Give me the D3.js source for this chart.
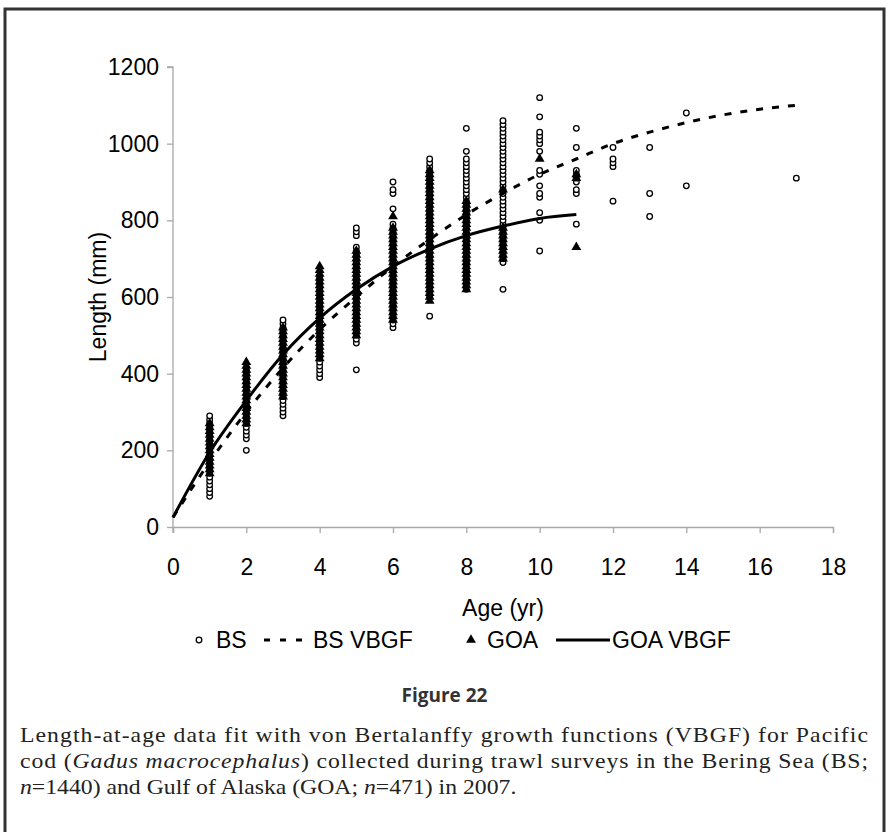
<!DOCTYPE html>
<html>
<head>
<meta charset="utf-8">
<script src="https://cdn.jsdelivr.net/npm/d3@7"></script>
<style>
  body { margin: 0; background: #fff; }
  svg { display: block; }
</style>
</head>
<body>
<div id="chart"></div>
<script>
// ages on the x axis, lengths in mm (10 mm bins)
const ages = [1, 2, 3, 4, 5, 6, 7, 8, 9, 10, 11, 12, 13, 14, 17];

const bsLengths = [
  [80, 90, 100, 110, 120, 130, 140, 150, 160, 170, 180, 190, 200, 210, 220, 230, 240, 250, 260, 270, 280, 290],
  [200, 230, 240, 250, 260, 270, 280, 290, 300, 310, 320, 330, 340, 350, 360, 370, 380, 390, 400, 410],
  [290, 300, 310, 320, 330, 340, 350, 360, 370, 380, 390, 400, 410, 420, 430, 440, 450, 460, 470, 480, 490, 500, 510, 520, 530, 540],
  [390, 400, 410, 420, 430, 440, 450, 460, 470, 480, 490, 500, 510, 520, 530, 540, 550, 560, 570, 580, 590, 600, 610, 620, 630, 640, 650],
  [410, 480, 490, 500, 510, 520, 530, 540, 550, 560, 570, 580, 590, 600, 610, 620, 630, 640, 650, 660, 670, 680, 690, 700, 710, 720, 730, 760, 770, 780],
  [520, 530, 540, 550, 560, 570, 580, 590, 600, 610, 620, 630, 640, 650, 660, 670, 680, 690, 700, 710, 720, 730, 740, 750, 760, 770, 780, 790, 830, 870, 880, 900],
  [550, 600, 610, 620, 630, 640, 650, 660, 670, 680, 690, 700, 710, 720, 730, 740, 750, 760, 770, 780, 790, 800, 810, 820, 830, 840, 850, 860, 870, 880, 890, 900, 910, 920, 930, 940, 950, 960],
  [620, 630, 640, 650, 660, 670, 680, 690, 700, 710, 720, 730, 740, 750, 760, 770, 780, 790, 800, 810, 820, 830, 840, 850, 860, 870, 880, 890, 900, 910, 920, 930, 940, 950, 960, 980, 1040],
  [620, 690, 700, 710, 720, 730, 740, 750, 760, 770, 780, 790, 800, 810, 820, 830, 840, 850, 860, 870, 880, 890, 900, 910, 920, 930, 940, 950, 960, 970, 980, 990, 1000, 1010, 1020, 1030, 1040, 1050, 1060],
  [720, 800, 820, 860, 870, 890, 920, 930, 980, 1000, 1010, 1020, 1030, 1070, 1120],
  [790, 870, 880, 900, 910, 920, 930, 990, 1040],
  [850, 940, 950, 960, 990],
  [810, 870, 990],
  [890, 1080],
  [910]
];

const goaAges = [1, 2, 3, 4, 5, 6, 7, 8, 9, 10, 11];
const goaLengths = [
  [140, 150, 160, 170, 180, 190, 200, 210, 220, 230, 240, 250, 260, 270],
  [270, 280, 290, 300, 310, 320, 330, 340, 350, 360, 370, 380, 390, 400, 410, 420, 430],
  [340, 350, 360, 370, 380, 390, 400, 410, 420, 430, 440, 450, 460, 470, 480, 490, 500, 510, 520],
  [440, 450, 460, 470, 480, 490, 500, 510, 520, 530, 540, 550, 560, 570, 580, 590, 600, 610, 620, 630, 640, 650, 660, 670, 680],
  [500, 510, 520, 530, 540, 550, 560, 570, 580, 590, 600, 610, 620, 630, 640, 650, 660, 670, 680, 690, 700, 710, 720],
  [540, 550, 560, 570, 580, 590, 600, 610, 620, 630, 640, 650, 660, 670, 680, 690, 700, 710, 720, 730, 740, 750, 760, 770, 780, 810],
  [590, 600, 610, 620, 630, 640, 650, 660, 670, 680, 690, 700, 710, 720, 730, 740, 750, 760, 770, 780, 790, 800, 810, 820, 830, 840, 850, 860, 870, 880, 890, 900, 910, 920, 930],
  [620, 630, 640, 650, 660, 670, 680, 690, 700, 710, 720, 730, 740, 750, 760, 770, 780, 790, 800, 810, 820, 830, 840, 850],
  [700, 710, 720, 730, 740, 750, 760, 770, 780, 880],
  [960],
  [730, 910, 920]
];

// fitted curves, read at each whole year
const bsCurveAges = [0, 1, 2, 3, 4, 5, 6, 7, 8, 9, 10, 11, 12, 13, 14, 15, 16, 17];
const bsCurve = [25, 170, 300, 415, 515, 600, 680, 750, 815, 870, 920, 960, 1000, 1030, 1055, 1075, 1090, 1100];
const goaCurveAges = [0, 1, 2, 3, 4, 5, 6, 7, 8, 9, 10, 11];
const goaCurve = [25, 195, 330, 450, 545, 620, 680, 725, 760, 785, 805, 815];

const xTicks = [0, 2, 4, 6, 8, 10, 12, 14, 16, 18];
const yTicks = [0, 200, 400, 600, 800, 1000, 1200];

(function () {
  const W = 889, H = 832;
  const plotLeft = 173, plotRight = 833, plotTop = 67, plotBottom = 527;

  const svg = d3.select("#chart").append("svg")
    .attr("width", W)
    .attr("height", H);

  // frame around the whole figure
  svg.append("rect")
    .attr("x", 5).attr("y", 9)
    .attr("width", 879).attr("height", 840)
    .attr("fill", "none")
    .attr("stroke", "#333")
    .attr("stroke-width", 3);

  const xPositionScale = d3.scaleLinear().domain([0, 18]).range([plotLeft, plotRight]);
  const yPositionScale = d3.scaleLinear().domain([0, 1200]).range([plotBottom, plotTop]);

  const xAxis = d3.axisBottom(xPositionScale).tickValues(xTicks).tickSize(6).tickPadding(26).tickFormat(d3.format("d"));
  const yAxis = d3.axisLeft(yPositionScale).tickValues(yTicks).tickSize(6).tickPadding(8).tickFormat(d3.format("d"));

  const gx = svg.append("g").attr("transform", "translate(0," + plotBottom + ")").call(xAxis);
  const gy = svg.append("g").attr("transform", "translate(" + plotLeft + ",0)").call(yAxis);

  [gx, gy].forEach(g => {
    g.selectAll("path, line").attr("stroke", "#a8a8a8").attr("stroke-width", 1.3);
    g.selectAll("text")
      .attr("fill", "#000")
      .attr("font-family", "'Liberation Sans', Arial, sans-serif")
      .attr("font-size", "23px");
  });
  gy.select(".domain").attr("d", "M0," + (plotBottom + 6) + "V" + plotTop + "H-6");

  svg.append("text")
    .attr("x", (plotLeft + plotRight) / 2)
    .attr("y", 616)
    .attr("text-anchor", "middle")
    .attr("font-family", "'Liberation Sans', Arial, sans-serif")
    .attr("font-size", "23px")
    .text("Age (yr)");

  svg.append("text")
    .attr("transform", "translate(106," + (plotTop + plotBottom) / 2 + ") rotate(-90)")
    .attr("text-anchor", "middle")
    .attr("font-family", "'Liberation Sans', Arial, sans-serif")
    .attr("font-size", "23px")
    .text("Length (mm)");

  // flatten the per-age lists into points
  const bsPoints = [];
  ages.forEach((a, i) => bsLengths[i].forEach(v => bsPoints.push({ x: a, y: v })));
  const goaPoints = [];
  goaAges.forEach((a, i) => goaLengths[i].forEach(v => goaPoints.push({ x: a, y: v })));

  const line = d3.line()
    .x(d => xPositionScale(d.x))
    .y(d => yPositionScale(d.y))
    .curve(d3.curveMonotoneX);

  svg.selectAll(".bs")
    .data(bsPoints)
    .enter().append("circle")
    .attr("class", "bs")
    .attr("cx", d => xPositionScale(d.x))
    .attr("cy", d => yPositionScale(d.y))
    .attr("r", 2.8)
    .attr("fill", "#fff")
    .attr("stroke", "#000")
    .attr("stroke-width", 1.3);

  svg.append("path")
    .datum(bsCurveAges.map((a, i) => ({ x: a, y: bsCurve[i] })))
    .attr("d", line)
    .attr("fill", "none")
    .attr("stroke", "#000")
    .attr("stroke-width", 3)
    .attr("stroke-dasharray", "7,9");

  const tri = d3.symbol().type(d3.symbolTriangle).size(42);

  svg.selectAll(".goa")
    .data(goaPoints)
    .enter().append("path")
    .attr("class", "goa")
    .attr("d", tri)
    .attr("transform", d => "translate(" + xPositionScale(d.x) + "," + yPositionScale(d.y) + ")")
    .attr("fill", "#000");

  svg.append("path")
    .datum(goaCurveAges.map((a, i) => ({ x: a, y: goaCurve[i] })))
    .attr("d", line)
    .attr("fill", "none")
    .attr("stroke", "#000")
    .attr("stroke-width", 3);

  // legend
  const legY = 640;
  const leg = svg.append("g")
    .attr("font-family", "'Liberation Sans', Arial, sans-serif")
    .attr("font-size", "23px");

  leg.append("circle").attr("cx", 199).attr("cy", legY).attr("r", 2.8)
    .attr("fill", "#fff").attr("stroke", "#000").attr("stroke-width", 1.3);
  leg.append("text").attr("x", 216).attr("y", legY + 8).text("BS");
  leg.append("line").attr("x1", 264).attr("x2", 308).attr("y1", legY).attr("y2", legY)
    .attr("stroke", "#000").attr("stroke-width", 3).attr("stroke-dasharray", "6,10");
  leg.append("text").attr("x", 313).attr("y", legY + 8).text("BS VBGF");
  leg.append("path").attr("d", tri).attr("transform", "translate(471," + legY + ")").attr("fill", "#000");
  leg.append("text").attr("x", 487).attr("y", legY + 8).text("GOA");
  leg.append("line").attr("x1", 556).attr("x2", 610).attr("y1", legY).attr("y2", legY)
    .attr("stroke", "#000").attr("stroke-width", 3);
  leg.append("text").attr("x", 612).attr("y", legY + 8).text("GOA VBGF");

  // caption
  svg.append("text")
    .attr("x", W / 2)
    .attr("y", 702)
    .attr("text-anchor", "middle")
    .attr("font-family", "'Open Sans', sans-serif")
    .attr("font-weight", "bold")
    .attr("font-size", "19px")
    .attr("fill", "#333")
    .text("Figure 22");

  // the caption face is wider than Times, so stretch it a little
  const sx = 1.13;
  const cap = svg.append("g")
    .attr("transform", "scale(" + sx + ",1)")
    .attr("font-family", "'Liberation Serif', 'Times New Roman', serif")
    .attr("font-size", "21px")
    .attr("fill", "#222");

  cap.append("text").attr("x", 20 / sx).attr("y", 742)
    .attr("textLength", 848 / sx).attr("lengthAdjust", "spacing")
    .text("Length-at-age data fit with von Bertalanffy growth functions (VBGF) for Pacific");

  const l2 = cap.append("text").attr("x", 20 / sx).attr("y", 768)
    .attr("textLength", 848 / sx).attr("lengthAdjust", "spacing");
  l2.append("tspan").text("cod (");
  l2.append("tspan").attr("font-style", "italic").text("Gadus macrocephalus");
  l2.append("tspan").text(") collected during trawl surveys in the Bering Sea (BS;");

  const l3 = cap.append("text").attr("x", 20 / sx).attr("y", 794);
  l3.append("tspan").attr("font-style", "italic").text("n");
  l3.append("tspan").text("=1440) and Gulf of Alaska (GOA; ");
  l3.append("tspan").attr("font-style", "italic").text("n");
  l3.append("tspan").text("=471) in 2007.");
})();
</script>
</body>
</html>
